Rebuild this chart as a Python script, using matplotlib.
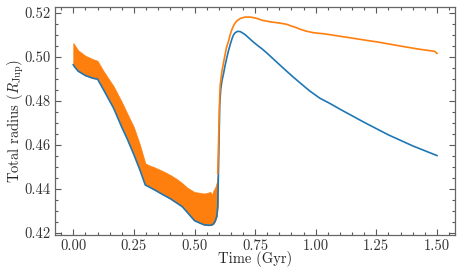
import matplotlib
matplotlib.use("Agg")
import matplotlib.pyplot as plt
from matplotlib.ticker import MultipleLocator, FormatStrFormatter

plt.rcParams["font.family"] = "serif"
plt.rcParams["font.serif"] = ["cmr10", "DejaVu Serif"]
plt.rcParams["mathtext.fontset"] = "cm"
plt.rcParams["axes.formatter.use_mathtext"] = True
plt.rcParams["font.size"] = 10.5

# Oscillating phase (t < 0.6 Gyr): orange band envelope, blue follows lower edge
t_band = [0.000, 0.005, 0.020, 0.050, 0.080, 0.100, 0.125, 0.167, 0.200, 0.222,
          0.250, 0.275, 0.297, 0.310, 0.340, 0.370, 0.400, 0.430, 0.450, 0.470,
          0.500, 0.520, 0.540, 0.555, 0.565, 0.572, 0.578, 0.585, 0.592, 0.596]
band_hi = [0.5063, 0.5055, 0.5030, 0.5005, 0.4990, 0.4982, 0.4935, 0.4865, 0.4795, 0.4744,
           0.4680, 0.4600, 0.4516, 0.4508, 0.4495, 0.4480, 0.4463, 0.4442, 0.4425, 0.4405,
           0.4385, 0.4382, 0.4378, 0.4382, 0.4386, 0.4372, 0.4392, 0.4405, 0.4430, 0.4470]
band_lo = [0.4964, 0.4955, 0.4935, 0.4915, 0.4903, 0.4899, 0.4850, 0.4765, 0.4680, 0.4628,
           0.4555, 0.4485, 0.4417, 0.4410, 0.4392, 0.4373, 0.4355, 0.4333, 0.4318, 0.4293,
           0.4255, 0.4245, 0.4236, 0.4234, 0.4234, 0.4236, 0.4240, 0.4252, 0.4275, 0.4320]

# Blue after the jump
t_blue = [0.600, 0.604, 0.608, 0.613, 0.620, 0.626, 0.633, 0.640, 0.647, 0.654,
          0.660, 0.668, 0.678, 0.688, 0.695, 0.710, 0.722, 0.740, 0.760, 0.780,
          0.800, 0.853, 0.900, 0.935, 0.975, 1.017, 1.060, 1.100, 1.200, 1.300,
          1.400, 1.500]
r_blue = [0.4550, 0.4780, 0.4850, 0.4890, 0.4925, 0.4960, 0.4995, 0.5027, 0.5055, 0.5080,
          0.5098, 0.5110, 0.5116, 0.5115, 0.5111, 0.5100, 0.5088, 0.5070, 0.5052, 0.5035,
          0.5016, 0.4962, 0.4915, 0.4882, 0.4845, 0.4812, 0.4787, 0.4762, 0.4702, 0.4645,
          0.4595, 0.4551]

# Orange after the jump
t_orange = [0.596, 0.600, 0.604, 0.606, 0.613, 0.620, 0.626, 0.633, 0.640, 0.647,
            0.654, 0.664, 0.674, 0.690, 0.708, 0.730, 0.750, 0.765, 0.780, 0.800,
            0.820, 0.850, 0.880, 0.900, 0.920, 0.935, 0.960, 0.990, 1.040, 1.140,
            1.210, 1.264, 1.350, 1.420, 1.490, 1.500]
r_orange = [0.4470, 0.4650, 0.4820, 0.4870, 0.4934, 0.4975, 0.5010, 0.5047, 0.5070, 0.5100,
            0.5124, 0.5148, 0.5163, 0.5175, 0.5181, 0.5181, 0.5177, 0.5172, 0.5166, 0.5162,
            0.5158, 0.5154, 0.5148, 0.5140, 0.5133, 0.5126, 0.5117, 0.5110, 0.5104, 0.5087,
            0.5075, 0.5066, 0.5049, 0.5036, 0.5025, 0.5016]

blue = "#1f77b4"
orange = "#ff7f0e"

fig = plt.figure(figsize=(4.63, 2.78), dpi=100)
ax = fig.add_axes([0.119, 0.155, 0.864, 0.82])

ax.plot(t_band + t_blue, band_lo + r_blue, color=blue, lw=1.2)
ax.fill_between(t_band, band_lo, band_hi, facecolor=orange, edgecolor=orange, lw=0.5)
ax.plot(t_orange, r_orange, color=orange, lw=1.2)

ax.set_xlim(-0.075, 1.575)
ax.set_ylim(0.419, 0.5227)
ax.xaxis.set_major_locator(MultipleLocator(0.25))
ax.xaxis.set_minor_locator(MultipleLocator(0.05))
ax.yaxis.set_major_locator(MultipleLocator(0.02))
ax.yaxis.set_minor_locator(MultipleLocator(0.005))
ax.xaxis.set_major_formatter(FormatStrFormatter("%.2f"))
ax.yaxis.set_major_formatter(FormatStrFormatter("%.2f"))

ax.tick_params(which="both", direction="in", top=True, right=True, colors="0.35",
               labelcolor="0.2", width=0.8)
ax.tick_params(which="major", length=4, pad=3)
ax.tick_params(which="minor", length=2)
for s in ax.spines.values():
    s.set_color("0.4")
    s.set_linewidth(0.9)

ax.set_xlabel("Time (Gyr)", labelpad=-1, color="0.15")
ax.set_ylabel(r"Total radius ($R_{\rm Jup}$)", labelpad=-1, color="0.15")

fig.savefig("out.png", dpi=100)
